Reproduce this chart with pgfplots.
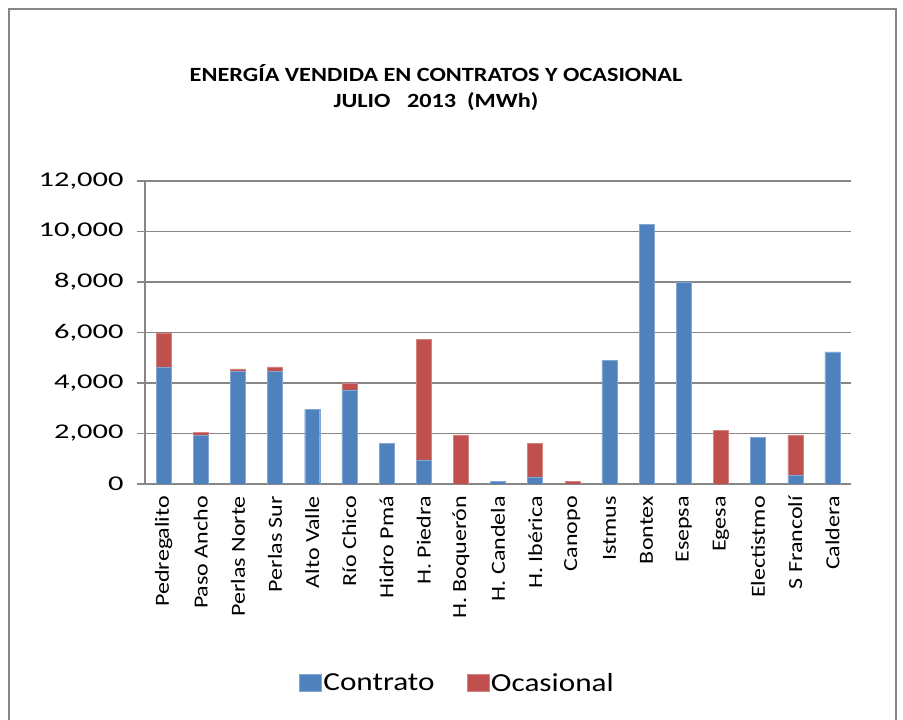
\documentclass[border=0pt]{standalone}
\usepackage{pgfplots}
\pgfplotsset{compat=1.18}
\usepackage{fontspec}
\setmainfont{Carlito}[FakeStretch=1.2]
\newfontfamily\yfont{Carlito}[FakeStretch=1.45]
\definecolor{cblue}{HTML}{4F81BD}
\definecolor{cred}{HTML}{C0504D}
\definecolor{cgrid}{HTML}{868686}
\begin{document}
\begin{tikzpicture}[x=1pt,y=1pt]
\path[use as bounding box] (0,0) rectangle (903,720);
\draw[cgrid, line width=2pt] (9,-5) -- (9,711) -- (896,711) -- (896,-5);
\node[align=center, font=\fontsize{20.2}{26}\selectfont\bfseries] at (436,632) {ENERGÍA VENDIDA EN CONTRATOS Y OCASIONAL\\JULIO\ \ \ 2013\ \ (MWh)};
\begin{axis}[
  at={(145pt,236pt)}, anchor=south west,
  scale only axis, width=706pt, height=303pt,
  ybar stacked, bar width=15pt,
  xmin=-0.5, xmax=18.5, ymin=0, ymax=12000,
  ytick={0,2000,...,12000},
  ymajorgrids, grid style={cgrid, line width=1.5pt},
  axis line style={cgrid, line width=1.5pt},
  axis x line*=bottom, axis y line*=left,
  tick align=outside,
  xtick={0,...,18}, major x tick style={draw=none},
  extra x ticks={-0.5,0.5,...,18.5}, extra x tick labels={},
  extra x tick style={major tick length=8pt, tick style={cgrid, line width=1.2pt}},
  major y tick style={cgrid, line width=1.2pt}, major tick length=8pt,
  xticklabels={Pedregalito,Paso Ancho,Perlas Norte,Perlas Sur,Alto Valle,Río Chico,Hidro Pmá,H. Piedra,H. Boquerón,H. Candela,H. Ibérica,Canopo,Istmus,Bontex,Esepsa,Egesa,Electistmo,S Francolí,Caldera},
  x tick label style={rotate=90, anchor=east, font=\fontsize{20}{24}\selectfont, inner sep=4pt},
  y tick label style={font=\fontsize{21}{24}\selectfont\yfont, xshift=-10pt},
  /pgf/number format/1000 sep={,},
  /pgf/number format/assume math mode=true,
  scaled y ticks=false,
  legend columns=2,
  legend style={at={(0.4425,-0.657)}, anchor=center, draw=none, font=\fontsize{26}{30}\selectfont, /tikz/every even column/.append style={column sep=30pt}},
  legend image code/.code={\fill[#1] (-2pt,-8pt) rectangle (20pt,9pt);},
]
\addplot[fill=cblue, draw=cblue!70!white] coordinates {(0,4630) (1,1920) (2,4460) (3,4460) (4,2950) (5,3730) (6,1615) (7,955) (8,0) (9,95) (10,280) (11,0) (12,4885) (13,10290) (14,8010) (15,0) (16,1855) (17,360) (18,5230)};
\addplot[fill=cred, draw=cred!70!white] coordinates {(0,1360) (1,120) (2,95) (3,175) (4,0) (5,245) (6,0) (7,4780) (8,1945) (9,0) (10,1335) (11,95) (12,0) (13,0) (14,0) (15,2120) (16,0) (17,1590) (18,0)};
\legend{Contrato,Ocasional}
\end{axis}
\end{tikzpicture}
\end{document}
